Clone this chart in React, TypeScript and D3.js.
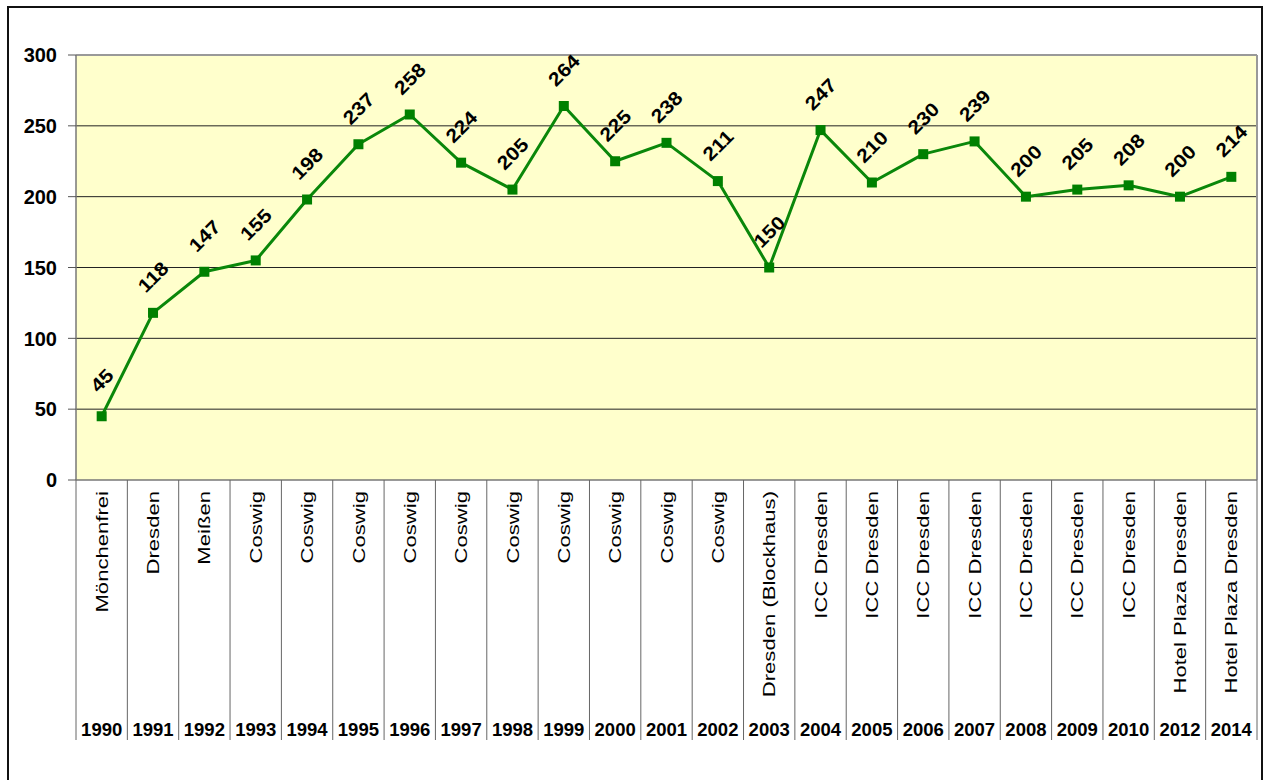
import React from "react";
import * as d3 from "d3";

const years = ["1990","1991","1992","1993","1994","1995","1996","1997","1998","1999","2000","2001","2002","2003","2004","2005","2006","2007","2008","2009","2010","2012","2014"];
const places = ["Mönchenfrei","Dresden","Meißen","Coswig","Coswig","Coswig","Coswig","Coswig","Coswig","Coswig","Coswig","Coswig","Coswig","Dresden (Blockhaus)","ICC Dresden","ICC Dresden","ICC Dresden","ICC Dresden","ICC Dresden","ICC Dresden","ICC Dresden","Hotel Plaza Dresden","Hotel Plaza Dresden"];
const values = [45,118,147,155,198,237,258,224,205,264,225,238,211,150,247,210,230,239,200,205,208,200,214];
const yTicks = [0,50,100,150,200,250,300];

const W = 1266, H = 780;
const L = 76, R = 1257, T = 55, B = 480;
const FONT = "'Liberation Sans', Arial, sans-serif";

export default function App() {
  const x = d3.scaleBand<string>().domain(years).range([L, R]).padding(0);
  const y = d3.scaleLinear().domain([0, 300]).range([B, T]);
  const cx = (i: number) => (x(years[i]) as number) + x.bandwidth() / 2;
  const line = d3.line<number>().x((_, i) => cx(i)).y((d) => y(d));
  const bounds = years.map((yr) => x(yr) as number).concat([R]);

  return (
    <svg width={W} height={H} style={{ position: "absolute", left: 0, top: 0, background: "#fff" }}>
      <rect x={8} y={7} width={1254} height={800} fill="#fff" stroke="#111" strokeWidth={2} />
      <rect x={L} y={T} width={R - L} height={B - T} fill="#FFFFCC" />
      {yTicks.filter((t) => t > 0 && t < 300).map((t) => (
        <line key={t} x1={L} x2={R} y1={y(t)} y2={y(t)} stroke="#222" strokeWidth={1} />
      ))}
      <line x1={L} x2={R} y1={T} y2={T} stroke="#999" strokeWidth={2} />
      <line x1={R} x2={R} y1={T} y2={B} stroke="#999" strokeWidth={2} />
      <line x1={L} x2={L} y1={T} y2={B} stroke="#777" strokeWidth={1.5} />
      <line x1={L} x2={R} y1={B} y2={B} stroke="#777" strokeWidth={1.5} />
      {yTicks.map((t) => (
        <g key={t}>
          <line x1={68} x2={L} y1={y(t)} y2={y(t)} stroke="#555" strokeWidth={1} />
          <text x={57} y={y(t)} dy="0.36em" textAnchor="end" fontFamily={FONT} fontWeight="bold" fontSize={20} fill="#000">{t}</text>
        </g>
      ))}
      {bounds.map((b, i) => (
        <line key={i} x1={b} x2={b} y1={B} y2={740} stroke="#666" strokeWidth={1} />
      ))}
      {places.map((p, i) => (
        <text key={i} transform={`translate(${cx(i)},491) rotate(-90) scale(1.3,1)`} dy="0.36em" textAnchor="end" fontFamily={FONT} fontSize={17} fill="#000">{p}</text>
      ))}
      {years.map((yr, i) => (
        <text key={yr} x={cx(i)} y={729} dy="0.36em" textAnchor="middle" fontFamily={FONT} fontWeight="bold" fontSize={18.5} fill="#000">{yr}</text>
      ))}
      <path d={line(values) as string} fill="none" stroke="#0A870A" strokeWidth={3} strokeLinejoin="round" />
      {values.map((v, i) => (
        <rect key={i} x={cx(i) - 5} y={y(v) - 5} width={10} height={10} fill="#008000" />
      ))}
      {values.map((v, i) => (
        <text key={i} transform={`translate(${cx(i)},${y(v) - 36}) rotate(-45) scale(1.12,1)`} dy="0.36em" textAnchor="middle" fontFamily={FONT} fontWeight="bold" fontSize={19} fill="#000">{v}</text>
      ))}
    </svg>
  );
}
